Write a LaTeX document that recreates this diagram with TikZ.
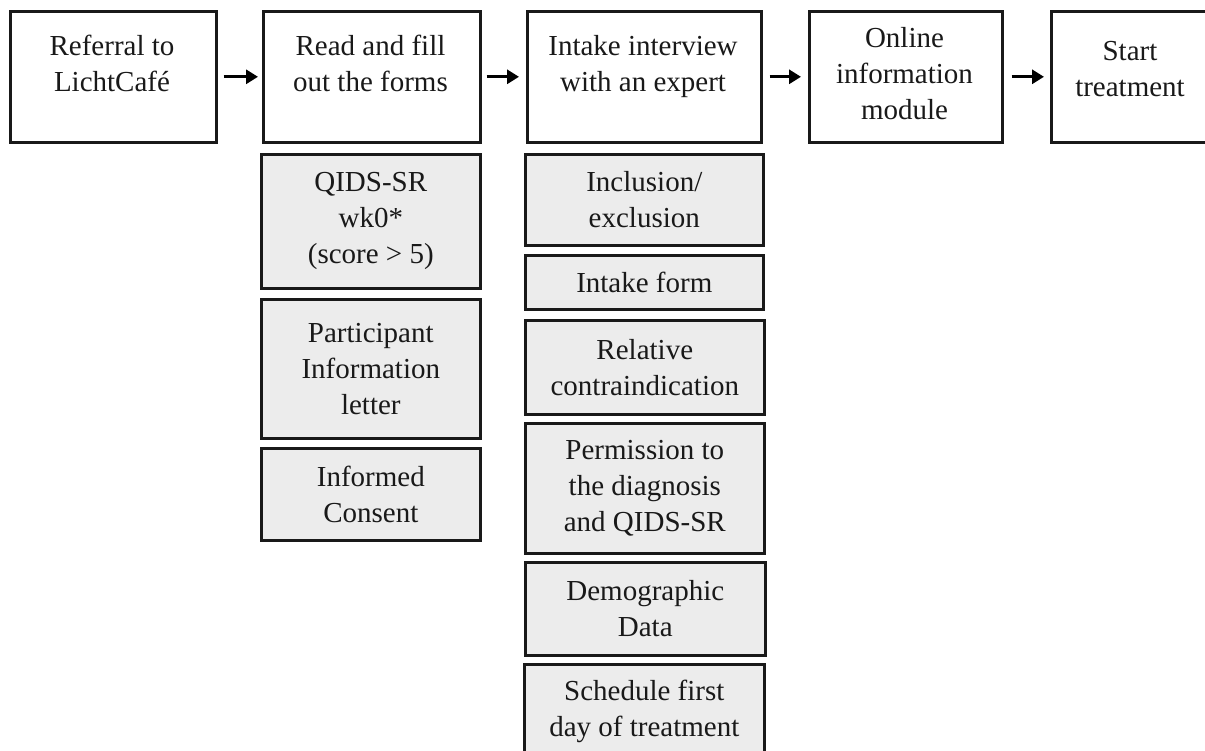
\documentclass[tikz,border=0pt]{standalone}
\usepackage{fontspec}
\setmainfont{Liberation Serif}
\usetikzlibrary{arrows.meta}
\definecolor{subgray}{RGB}{236,236,236}
\begin{document}
\begin{tikzpicture}[x=1pt,y=-1pt,
  every node/.style={font=\fontsize{29}{36}\selectfont, text=black!90},
  box/.style={draw=black!90, line width=2.6pt, inner sep=0pt, anchor=north west},
  topbox/.style={box, fill=white},
  subbox/.style={box, fill=subgray, align=center},
  txt/.style={align=center, inner sep=0pt, anchor=base},
  flow/.style={line width=3pt, -{Triangle[length=12pt,width=14pt]}}
]
\useasboundingbox (0,0) rectangle (1205,751);
\clip (0,0) rectangle (1205,751);
\fill[white] (0,0) rectangle (1205,751);

% top row
\node[topbox, minimum width=206pt, minimum height=131pt] (b1) at (9,10) {};
\node[topbox, minimum width=217pt, minimum height=131pt] (b2) at (262,10) {};
\node[topbox, minimum width=234pt, minimum height=131pt] (b3) at (526,10) {};
\node[topbox, minimum width=193pt, minimum height=131pt] (b4) at (808,10) {};
\node[topbox, minimum width=160pt, minimum height=131pt] (b5) at (1050,10) {};

% (anchor=base is the baseline of the last line)
\node[txt] (t1) at (112,92) {Referral to\\LichtCafé};
\node[txt] (t2) at (370.5,92) {Read and fill\\out the forms};
\node[txt] (t3) at (643,92) {Intake interview\\with an expert};
\node[txt] (t4) at (904.5,120) {Online\\information\\module};
\node[txt] (t5) at (1130,97) {Start\\treatment};

\draw[flow, shorten <=6pt, shorten >=4pt] (b1) -- (b2);
\draw[flow, shorten <=5pt, shorten >=7pt] (b2) -- (b3);
\draw[flow, shorten <=7pt, shorten >=7pt] (b3) -- (b4);
\draw[flow, shorten <=8pt, shorten >=6pt] (b4) -- (b5);

% column 2
\node[subbox, minimum width=219pt, minimum height=134pt] (q) at (260,153) {QIDS-SR\\wk0*\\(score > 5)};
\node[subbox, minimum width=219pt, minimum height=139pt] (p) at (260,298) {Participant\\Information\\letter};
\node[subbox, minimum width=219pt, minimum height=92pt] (c) at (260,447) {Informed\\Consent};

% column 3
\node[subbox, minimum width=238pt, minimum height=91pt] (s1) at (524,153) {Inclusion/\\exclusion};
\node[subbox, minimum width=238pt, minimum height=54pt] (s2) at (524,254) {Intake form};
\node[subbox, minimum width=239pt, minimum height=94pt] (s3) at (524,319) {Relative\\contraindication};
\node[subbox, minimum width=239pt, minimum height=130pt] (s4) at (524,422) {Permission to\\the diagnosis\\and QIDS-SR};
\node[subbox, minimum width=240pt, minimum height=93pt] (s5) at (524,561) {Demographic\\Data};
\node[subbox, minimum width=240pt, minimum height=95pt] (s6) at (523,663) {Schedule first\\day of treatment};
\end{tikzpicture}
\end{document}
